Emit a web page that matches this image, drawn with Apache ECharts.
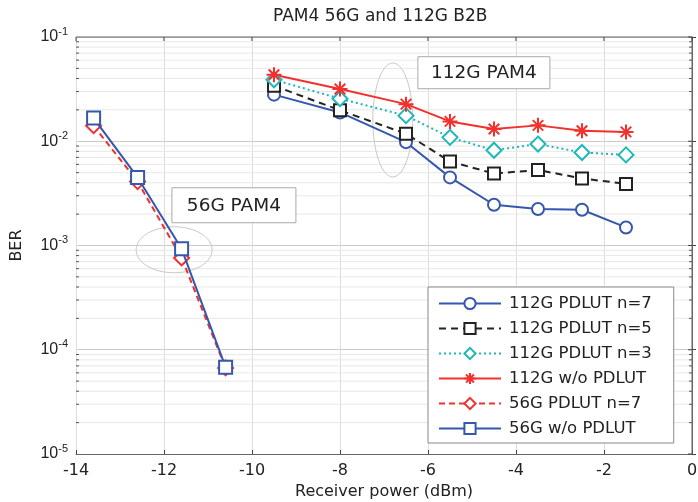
<!DOCTYPE html>
<html>
<head>
<meta charset="utf-8">
<script src="https://cdn.jsdelivr.net/npm/echarts@6/dist/echarts.min.js"></script>
<style>
  html, body { margin: 0; padding: 0; background: #fff; }
  #chart { width: 698px; height: 502px; }
</style>
</head>
<body>
<div id="chart"></div>
<script>
// Receiver power (dBm) for the two link rates
const power112 = [-9.5, -8, -6.5, -5.5, -4.5, -3.5, -2.5, -1.5];
const power56 = [-13.6, -12.6, -11.6, -10.6];

// BER values
const ber112n7 = [0.028, 0.0189, 0.0098, 0.0045, 0.00246, 0.00224, 0.0022, 0.00149];
const ber112n5 = [0.0341, 0.0198, 0.0118, 0.0064, 0.0049, 0.0053, 0.0044, 0.0039];
const ber112n3 = [0.0389, 0.0256, 0.0176, 0.0109, 0.0082, 0.0094, 0.0078, 0.0074];
const ber112raw = [0.0435, 0.0317, 0.0227, 0.0155, 0.0131, 0.0142, 0.0126, 0.0123];
const ber56n7 = [0.0141, 0.0041, 0.00076, 0.000067];
const ber56raw = [0.0167, 0.0045, 0.00093, 0.000068];

// Axis ticks
const xTicks = [-14, -12, -10, -8, -6, -4, -2, 0];
const yDecades = [-5, -4, -3, -2, -1];

const seriesNames = [
  '112G PDLUT n=7', '112G PDLUT n=5', '112G PDLUT n=3',
  '112G w/o PDLUT', '56G PDLUT n=7', '56G w/o PDLUT'
];

const FONT = 'DejaVu Sans, Liberation Sans, sans-serif';
const BLUE = '#3557ad';
const BLACK = '#222222';
const CYAN = '#1fb7b7';
const RED = '#f2302c';

const asterisk = 'path://M10,0L10,20M0,10L20,10M3,3L17,17M3,17L17,3';

function pairs(xs, ys) { return xs.map((x, i) => [x, ys[i]]); }

// minor grid values 2..9 x 10^k
const minorValues = [];
yDecades.slice(0, -1).forEach(d => {
  for (let m = 2; m <= 9; m++) minorValues.push(m * Math.pow(10, d));
});

function lineSeries(name, xs, ys, color, type, symbol, size, z) {
  return {
    name: name,
    type: 'line',
    data: pairs(xs, ys),
    symbol: symbol,
    symbolSize: size,
    showAllSymbol: true,
    z: z,
    lineStyle: { color: color, width: 2, type: type },
    itemStyle: { color: symbol === asterisk ? 'none' : '#ffffff', borderColor: color, borderWidth: 2 },
    emphasis: { disabled: true }
  };
}

const chart = echarts.init(document.getElementById('chart'), null, { renderer: 'canvas' });

const GRID = { left: 76, right: 6, top: 37, bottom: 48, containLabel: false, outerBoundsMode: 'none' };

const option = {
  animation: false,
  backgroundColor: '#ffffff',
  textStyle: { fontFamily: FONT },
  title: {
    text: 'PAM4 56G and 112G B2B',
    left: 273,
    top: 8,
    padding: 0,
    textStyle: { fontSize: 17, fontWeight: 'normal', color: '#222', fontFamily: FONT }
  },
  grid: GRID,
  legend: {
    orient: 'vertical',
    left: 428,
    top: 287,
    data: seriesNames,
    backgroundColor: '#ffffff',
    borderColor: '#888',
    borderWidth: 1,
    padding: [8, 22, 6, 10],
    itemWidth: 62,
    itemHeight: 14,
    itemGap: 8,
    textStyle: { fontSize: 16.5, lineHeight: 17, color: '#222', fontFamily: FONT, padding: [0, 0, 0, 3] },
    selectedMode: false
  },
  xAxis: {
    type: 'value',
    min: -14,
    max: 0,
    interval: 2,
    name: 'Receiver power (dBm)',
    nameLocation: 'middle',
    nameGap: 29,
    nameTextStyle: { fontSize: 16, color: '#222', fontFamily: FONT },
    axisLine: { show: true, onZero: false, lineStyle: { color: '#666', width: 1 } },
    axisTick: { show: true, inside: true, length: 4, lineStyle: { color: '#444' } },
    axisLabel: { fontSize: 16, color: '#222', margin: 9, fontFamily: FONT },
    splitLine: { show: true, lineStyle: { color: '#dddddd', width: 1 } }
  },
  yAxis: [{
    type: 'log',
    logBase: 10,
    min: 1e-5,
    max: 0.1,
    name: 'BER',
    nameLocation: 'middle',
    nameGap: 51,
    nameRotate: 90,
    nameTextStyle: { fontSize: 16, color: '#222', fontFamily: FONT },
    axisLine: { show: true, lineStyle: { color: '#666', width: 1 } },
    axisTick: { show: true, inside: true, length: 4, lineStyle: { color: '#444' } },
    axisLabel: {
      margin: 8,
      formatter: function (v) {
        const e = Math.round(Math.log10(v));
        return '{b|10}{s|' + e + '}';
      },
      rich: {
        b: { fontSize: 16, color: '#222', fontFamily: 'Liberation Sans, Arial, sans-serif' },
        s: { fontSize: 11, color: '#222', padding: [0, 0, 11, 0], fontFamily: 'Liberation Sans, Arial, sans-serif' }
      }
    },
    splitLine: { show: true, lineStyle: { color: '#cccccc', width: 1 } }
  }],
  series: [
    // minor grid lines and ticks for the log axis
    {
      type: 'custom',
      silent: true,
      z: 1,
      data: minorValues.map(v => [-14, v]),
      renderItem: function (params, api) {
        const cs = params.coordSys;
        const y = api.coord([-14, api.value(1)])[1];
        return {
          type: 'group',
          children: [
            { type: 'line', shape: { x1: cs.x, y1: y, x2: cs.x + cs.width, y2: y },
              style: { stroke: '#e8e8e8', lineWidth: 1 } },
            { type: 'line', shape: { x1: cs.x, y1: y, x2: cs.x + 3, y2: y },
              style: { stroke: '#555', lineWidth: 1 } },
            { type: 'line', shape: { x1: cs.x + cs.width - 3, y1: y, x2: cs.x + cs.width, y2: y },
              style: { stroke: '#555', lineWidth: 1 } }
          ]
        };
      }
    },
    lineSeries(seriesNames[0], power112, ber112n7, BLUE, 'solid', 'circle', 12, 5),
    lineSeries(seriesNames[1], power112, ber112n5, BLACK, [7, 5], 'rect', 12, 5),
    lineSeries(seriesNames[2], power112, ber112n3, CYAN, [2, 3], 'diamond', 15, 5),
    lineSeries(seriesNames[3], power112, ber112raw, RED, 'solid', asterisk, 15, 5),
    lineSeries(seriesNames[4], power56, ber56n7, RED, [6, 4], 'diamond', 15, 5),
    lineSeries(seriesNames[5], power56, ber56raw, BLUE, 'solid', 'rect', 13, 6)
  ]
};

chart.setOption(option);

// Box frame: top and right edges with inward ticks, plus the annotations
function px(x, y) { return chart.convertToPixel({ xAxisIndex: 0, yAxisIndex: 0 }, [x, y]); }
const tl = px(-14, 0.1), br = px(0, 1e-5);
const frame = [
  { type: 'line', shape: { x1: tl[0], y1: tl[1], x2: br[0], y2: tl[1] }, style: { stroke: '#666', lineWidth: 1 }, z: 10 },
  { type: 'line', shape: { x1: br[0], y1: tl[1], x2: br[0], y2: br[1] }, style: { stroke: '#666', lineWidth: 1 }, z: 10 }
];
xTicks.forEach(t => {
  const p = px(t, 0.1);
  frame.push({ type: 'line', shape: { x1: p[0], y1: p[1], x2: p[0], y2: p[1] + 4 }, style: { stroke: '#444', lineWidth: 1 }, z: 10 });
});
yDecades.forEach(d => {
  const p = px(0, Math.pow(10, d));
  frame.push({ type: 'line', shape: { x1: p[0] - 4, y1: p[1], x2: p[0], y2: p[1] }, style: { stroke: '#444', lineWidth: 1 }, z: 10 });
});

// annotation ellipses and labels
const e112 = px(-6.8, 0.016);
const e56 = px(-11.77, 0.00091);
const b112 = px(-6.23, 0.0647);
const b56 = px(-11.82, 0.00358);
const annotations = [
  { type: 'ellipse', shape: { cx: e112[0], cy: e112[1], rx: 20, ry: 57 }, style: { fill: 'none', stroke: '#c8c8c8', lineWidth: 1 }, z: 3 },
  { type: 'ellipse', shape: { cx: e56[0], cy: e56[1], rx: 38, ry: 23 }, style: { fill: 'none', stroke: '#c8c8c8', lineWidth: 1 }, z: 3 },
  { type: 'rect', shape: { x: b112[0], y: b112[1], width: 132, height: 32 }, style: { fill: '#fff', stroke: '#aaa', lineWidth: 1 }, z: 7 },
  { type: 'text', x: b112[0] + 66, y: b112[1] + 16, style: { text: '112G PAM4', fontSize: 18.5, fill: '#222', align: 'center', verticalAlign: 'middle', fontFamily: FONT }, z: 8 },
  { type: 'rect', shape: { x: b56[0], y: b56[1], width: 124, height: 35 }, style: { fill: '#fff', stroke: '#aaa', lineWidth: 1 }, z: 7 },
  { type: 'text', x: b56[0] + 62, y: b56[1] + 18, style: { text: '56G PAM4', fontSize: 18.5, fill: '#222', align: 'center', verticalAlign: 'middle', fontFamily: FONT }, z: 8 }
];

chart.setOption({ graphic: frame.concat(annotations) });
</script>
</body>
</html>
